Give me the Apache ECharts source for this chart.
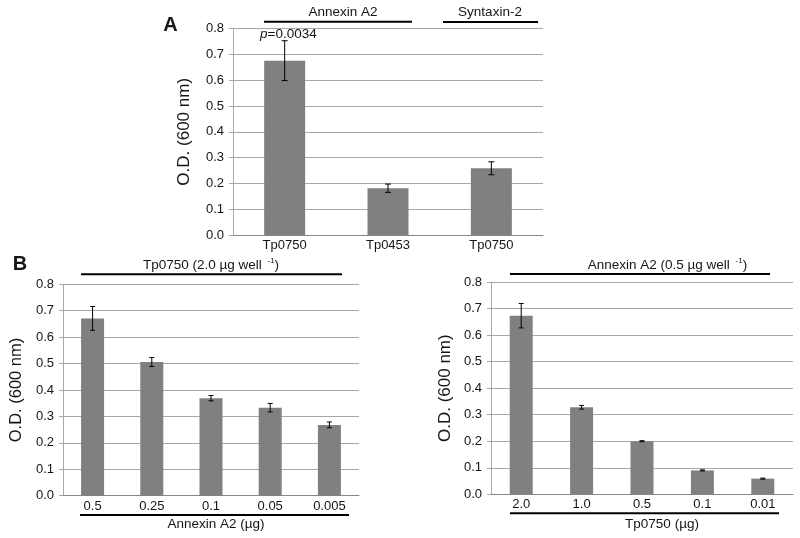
<!DOCTYPE html>
<html><head><meta charset="utf-8">
<script src="https://cdn.jsdelivr.net/npm/echarts@6/dist/echarts.min.js"></script>
<style>html,body{margin:0;padding:0;background:#fff}#c{width:800px;height:538px}</style>
</head><body><div id="c"></div>
<script>
// ---- data ----
const catsA = ['Tp0750', 'Tp0453', 'Tp0750'];
const valsA = [0.675, 0.182, 0.259];
const errA  = [0.077, 0.016, 0.025];

const catsB1 = ['0.5', '0.25', '0.1', '0.05', '0.005'];
const valsB1 = [0.671, 0.506, 0.369, 0.333, 0.268];
const errB1  = [0.045, 0.017, 0.010, 0.016, 0.011];

const catsB2 = ['2.0', '1.0', '0.5', '0.1', '0.01'];
const valsB2 = [0.673, 0.328, 0.200, 0.090, 0.059];
const errB2  = [0.046, 0.007, 0.002, 0.002, 0.002];

const yTicks = [0, 0.1, 0.2, 0.3, 0.4, 0.5, 0.6, 0.7, 0.8];
const yName = 'O.D. (600 nm)';

// ---- styles ----
const FONT = "'Liberation Sans', Arial, sans-serif";
const TXT = '#151515';
const BAR = '#808080';
const GRID = '#a8a8a8';

function errData(vals, errs) {
  return vals.map((v, i) => [i, v - errs[i], v + errs[i]]);
}
function errSeries(idx, vals, errs, cap) {
  return {
    type: 'custom', xAxisIndex: idx, yAxisIndex: idx, z: 5,
    data: errData(vals, errs),
    renderItem: function (params, api) {
      const x = api.value(0);
      const lo = api.coord([x, api.value(1)]);
      const hi = api.coord([x, api.value(2)]);
      const st = { stroke: '#000', lineWidth: 1 };
      return { type: 'group', children: [
        { type: 'line', shape: { x1: lo[0], y1: lo[1], x2: hi[0], y2: hi[1] }, style: st },
        { type: 'line', shape: { x1: hi[0] - cap, y1: hi[1], x2: hi[0] + cap, y2: hi[1] }, style: st },
        { type: 'line', shape: { x1: lo[0] - cap, y1: lo[1], x2: lo[0] + cap, y2: lo[1] }, style: st }
      ]};
    }
  };
}
function xAx(idx, cats) {
  return {
    type: 'category', gridIndex: idx, data: cats,
    axisLine: { lineStyle: { color: '#888', width: 1 } },
    axisTick: { show: false },
    axisLabel: { color: TXT, fontFamily: FONT, fontSize: 13, margin: 4 }
  };
}
function yAx(idx, gap, nsize) {
  return {
    type: 'value', gridIndex: idx, min: 0, max: 0.8, interval: 0.1,
    name: yName, nameLocation: 'middle', nameGap: gap, nameRotate: 90,
    nameTextStyle: { color: TXT, fontFamily: FONT, fontSize: nsize },
    axisLine: { show: true, lineStyle: { color: GRID, width: 1 } },
    axisTick: { show: true, length: 4, lineStyle: { color: GRID } },
    splitLine: { lineStyle: { color: GRID, width: 1 } },
    axisLabel: { color: TXT, fontFamily: FONT, fontSize: 13, margin: 9,
      formatter: v => { const t = yTicks.find(k => Math.abs(k - v) < 1e-9); return (t !== undefined ? t : v).toFixed(1); } }
  };
}
function barSeries(idx, vals, w) {
  return { type: 'bar', xAxisIndex: idx, yAxisIndex: idx, data: vals, barWidth: w,
    itemStyle: { color: BAR }, silent: true };
}
function txt(x, y, text, size, extra) {
  return Object.assign({ type: 'text', x: x, y: y, style: Object.assign({
    text: text, fill: TXT, font: size + 'px ' + FONT, align: 'center', verticalAlign: 'middle' }, extra || {}) });
}
function hline(x1, x2, y) {
  return { type: 'line', shape: { x1: x1, y1: y, x2: x2, y2: y }, style: { stroke: '#000', lineWidth: 2 } };
}
function supText(x, y, pre, post) {
  return { type: 'text', x: x, y: y, style: {
    text: '{a|' + pre + '}{s|-1}{a|' + post + '}',
    align: 'center', verticalAlign: 'middle',
    rich: {
      a: { fontFamily: FONT, fontSize: 13.5, fill: TXT, color: TXT, lineHeight: 16 },
      s: { fontFamily: FONT, fontSize: 8, fill: TXT, color: TXT, lineHeight: 16, verticalAlign: 'top', padding: [0, 0, 6, 2] }
    }
  }};
}

const chart = echarts.init(document.getElementById('c'));
chart.setOption({
  animation: false,
  backgroundColor: '#fff',
  grid: [
    { left: 233, right: 257, top: 28.3, bottom: 302.7 },
    { left: 63, right: 441, top: 284.3, bottom: 42.3 },
    { left: 491, right: 7, top: 282, bottom: 43.7 }
  ],
  xAxis: [xAx(0, catsA), xAx(1, catsB1), xAx(2, catsB2)],
  yAxis: [yAx(0, 40, 17), yAx(1, 38, 16.5), yAx(2, 37, 17)],
  series: [
    barSeries(0, valsA, 41), errSeries(0, valsA, errA, 3),
    barSeries(1, valsB1, 23), errSeries(1, valsB1, errB1, 2.5),
    barSeries(2, valsB2, 23), errSeries(2, valsB2, errB2, 2.5)
  ],
  graphic: [
    txt(170.5, 25, 'A', 20, { font: 'bold 20px ' + FONT }),
    txt(20, 264, 'B', 20, { font: 'bold 20px ' + FONT }),
    hline(264, 412, 21.7), txt(343, 12, 'Annexin A2', 13.5),
    hline(443, 538, 22), txt(490, 12, 'Syntaxin-2', 13.5),
    { type: 'text', x: 260, y: 34, style: {
      text: '{i|p}{a|=0.0034}', verticalAlign: 'middle', align: 'left',
      rich: { i: { fontFamily: FONT, fontSize: 13.5, fontStyle: 'italic', fill: TXT }, a: { fontFamily: FONT, fontSize: 13.5, fill: TXT } } } },
    hline(81, 342, 274.3), supText(211, 265, 'Tp0750 (2.0 µg well ', ')'),
    hline(80, 349, 515), txt(216, 524.5, 'Annexin A2 (µg)', 13.5),
    hline(510, 770, 274), supText(667.5, 265, 'Annexin A2 (0.5 µg well ', ')'),
    hline(510, 779, 513.3), txt(662, 524.5, 'Tp0750 (µg)', 13.5)
  ]
});
</script></body></html>
